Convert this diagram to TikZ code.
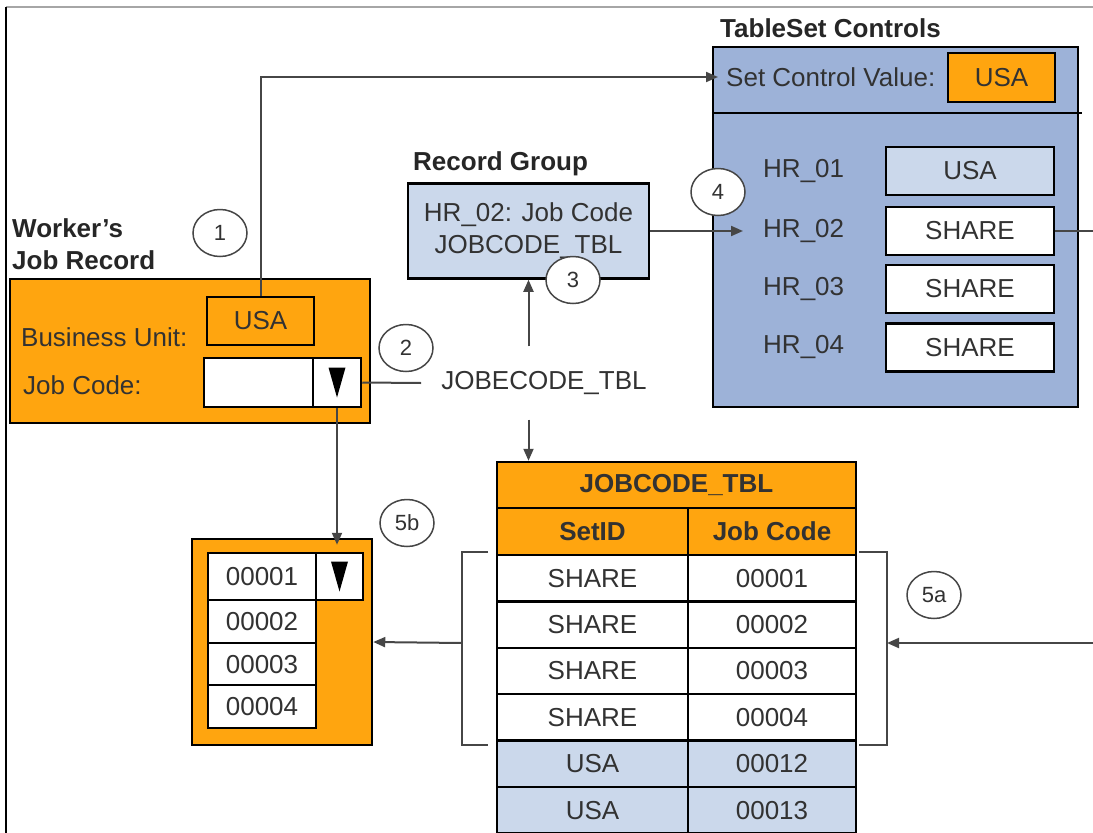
\documentclass[tikz,border=0pt]{standalone}
\usepackage{fontspec}
\setmainfont{Liberation Sans}
\usepackage{xcolor}
\usetikzlibrary{positioning, calc, arrows.meta, shapes.geometric}

\definecolor{psorange}{RGB}{255,165,15}
\definecolor{psblue}{RGB}{157,178,216}
\definecolor{pslight}{RGB}{203,216,235}
\definecolor{psline}{RGB}{70,70,70}
\definecolor{pstext}{RGB}{50,50,50}

\newcommand{\bigfont}{\fontsize{26}{32}\selectfont}

\tikzset{
  fbox/.style={draw=black, line width=2.5pt, inner sep=0pt, text=pstext},
  lbl/.style={anchor=west, inner sep=0pt, text=pstext},
  ttl/.style={anchor=west, inner sep=0pt, align=left, font=\bigfont\bfseries, text=black!85},
  num/.style={draw=psline, ellipse, line width=1.5pt, fill=white, minimum width=54pt, minimum height=47pt, inner sep=0pt, font=\fontsize{22}{26}\selectfont, text=pstext},
  conn/.style={draw=psline, line width=2pt},
  arr/.style={conn, -{Triangle[length=12pt,width=10pt]}},
}

% black down-triangle of a drop-down button
\newcommand{\droptri}[1]{\fill[black] ($(#1.center)+(-8.5,-15)$) -- ($(#1.center)+(8.5,-15)$) -- ($(#1.center)+(0,15)$) -- cycle;}

\begin{document}
\begin{tikzpicture}[x=1pt, y=-1pt, font=\bigfont]
  \useasboundingbox (0,0) rectangle (1093,833);
  \clip (0,0) rectangle (1093,833);
  \draw[gray!70, line width=1.5pt] (6,7) -- (1093,7);
  \draw[black, line width=1.5pt] (6,7) -- (6,833);

  % worker's job record
  \node[ttl] (wtitle) at (12,244) {Worker’s\\Job Record};
  \node[fbox, fill=psorange, minimum width=360pt, minimum height=144pt] (wjr) at (190,351) {};
  \node[fbox, fill=psorange, minimum width=107pt, minimum height=48pt] (bu) at (260.5,321) {USA};
  \node[lbl] (bulbl) at (21,337) {Business Unit:};
  \node[lbl] (jclbl) at (23,385) {Job Code:};
  \node[fbox, fill=white, minimum width=109pt, minimum height=49pt] (jcfld) at (258.5,382.5) {};
  \node[fbox, fill=white, minimum width=48pt, minimum height=49pt] (drop) at (337,382.5) {};
  \droptri{drop}

  % tableset controls
  \node[ttl] (ttitle) at (720,28) {TableSet Controls};
  \node[fbox, fill=psblue, minimum width=365pt, minimum height=360pt] (tsc) at (895.5,227) {};
  \draw[black, line width=2.5pt] (tsc.west |- 0,113) -- (1082,113);
  \node[lbl] (scv) at (726,77) {Set Control Value:};
  \node[fbox, fill=psorange, minimum width=107pt, minimum height=49pt] (scvval) at (1001.5,77.5) {USA};
  \foreach \i/\y/\val/\col in {1/171/USA/pslight, 2/231/SHARE/white, 3/289/SHARE/white, 4/347.5/SHARE/white} {
    \node[lbl] (hr\i) at (763,\y) {HR\_0\i};
    \node[fbox, fill=\col, minimum width=168pt, minimum height=48pt] (set\i) at (970,\y) {\val};
  }

  % record group
  \node[ttl] (rtitle) at (413,164) {Record Group};
  \node[fbox, fill=pslight, minimum width=241pt, minimum height=95pt, align=center] (rg) at (528.5,231) {HR\_02: Job Code\\JOBCODE\_TBL};
  \node[inner sep=0pt, minimum height=73pt, text=pstext] (jtbl) at (544,383) {JOBECODE\_TBL};

  % JOBCODE_TBL
  \node[fbox, fill=psorange, minimum width=359pt, minimum height=46pt, font=\bigfont\bfseries] (hdr) at (676.5,485) {JOBCODE\_TBL};
  \node[fbox, fill=psorange, minimum width=191pt, minimum height=47pt, font=\bigfont\bfseries] (hsid) at (592.5,531.5) {SetID};
  \node[fbox, fill=psorange, minimum width=168pt, minimum height=47pt, font=\bigfont\bfseries] (hcode) at (772,531.5) {Job Code};
  \foreach \i/\sid/\code/\col in {0/SHARE/00001/white, 1/SHARE/00002/white, 2/SHARE/00003/white, 3/SHARE/00004/white, 4/USA/00012/pslight, 5/USA/00013/pslight} {
    \node[fbox, fill=\col, minimum width=191pt, minimum height=46.4pt] (sid\i) at (592.5,{578.2+46.4*\i}) {\sid};
    \node[fbox, fill=\col, minimum width=168pt, minimum height=46.4pt] (code\i) at (772,{578.2+46.4*\i}) {\code};
  }
  \draw[conn] (488,552) -- (462,552) -- (462,745) -- (488,745);
  \draw[conn] (859,552) -- (887,552) -- (887,745) -- (859,745);
  \coordinate (brl) at (462,643);
  \coordinate (brr) at (887,643);

  % drop-down list
  \node[fbox, fill=psorange, minimum width=180pt, minimum height=206pt] (lst) at (282,642) {};
  \node[fbox, fill=white, minimum width=108pt, minimum height=47pt] (opt1) at (262,576.5) {00001};
  \node[fbox, fill=white, minimum width=47pt, minimum height=47pt] (optbtn) at (339.5,576.5) {};
  \droptri{optbtn}
  \foreach \i/\y in {2/621.5, 3/664.5, 4/706.5}
    \node[fbox, fill=white, minimum width=108pt, minimum height=43pt] (opt\i) at (262,\y) {0000\i};

  % connectors
  \coordinate (offr) at (1100,231);
  \coordinate (offb) at (1100,643);
  \draw[arr] (bu.north) |- ([xshift=-8pt]scv.west);
  \draw[conn] (drop.east) -- ([xshift=-20pt]jtbl.west);
  \draw[arr] (jtbl.north -| rg.south) -- (rg.south);
  \draw[arr] (jtbl.south -| rg.south) -- (rg.south |- hdr.north);
  \draw[arr] (rg.east) -- ([xshift=-20pt]hr2.west);
  \draw[conn] (set2.east) -- (offr);
  \draw[arr, shorten >=-7pt] (drop.south) -- (drop.south |- lst.north);
  \draw[arr] (brl) -- (lst.east);
  \draw[arr] (offb) -- (brr);

  % step numbers
  \node[num] (n1) at (220,233) {1};
  \node[num] (n2) at (406,348) {2};
  \node[num] (n3) at (573,280) {3};
  \node[num] (n4) at (718,192) {4};
  \node[num] (n5a) at (934,595) {5a};
  \node[num] (n5b) at (407,523) {5b};
\end{tikzpicture}
\end{document}
